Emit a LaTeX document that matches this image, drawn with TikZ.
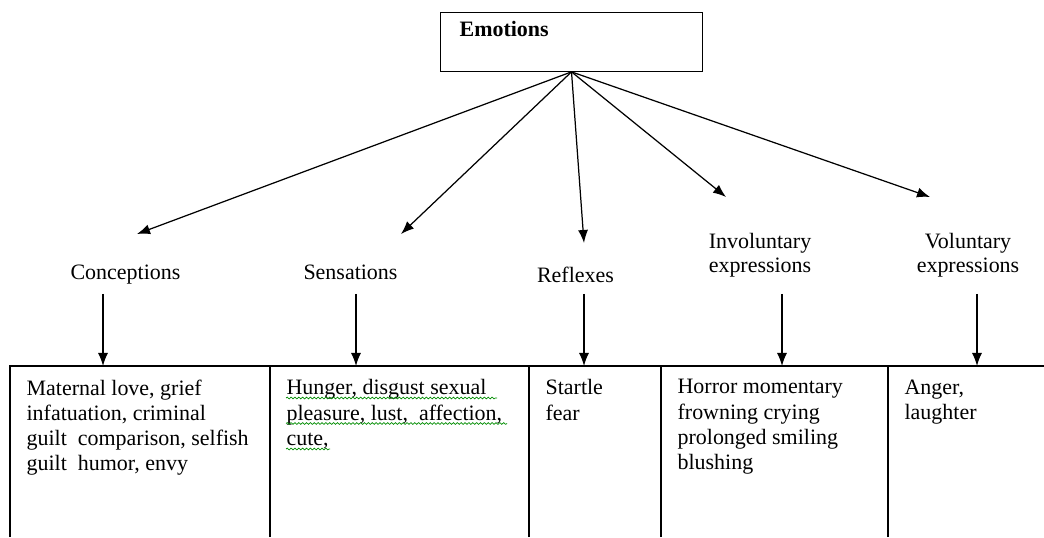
\documentclass[tikz,border=0pt]{standalone}
\usepackage{fontspec}
\setmainfont{Liberation Serif}
\usetikzlibrary{arrows.meta,decorations.pathmorphing}
\begin{document}
\begin{tikzpicture}[font=\fontsize{12.5}{14.4}\selectfont, line width=0.7pt,
  >={Latex[length=2.6mm,width=2mm]},
  lbl/.style={align=center, inner sep=0pt, font=\fontsize{12.5}{13.6}\selectfont},
  cell/.style={anchor=north west, align=left, inner sep=0pt},
  squig/.style={draw=green!55!black, line width=0.4pt, decorate,
    decoration={snake, amplitude=0.5pt, segment length=2.2pt}}]
\useasboundingbox (0,0) rectangle (20.88,10.74);
\node[draw, minimum width=5.24cm, minimum height=1.17cm] (emo) at (11.43,9.90) {};
\node[anchor=base west, inner sep=0pt, font=\fontsize{12.5}{14.4}\selectfont\bfseries] (emot) at (9.18,10.0) {Emotions};
\coordinate (c1) at (2.74,6.06);
\coordinate (c2) at (8.02,6.06);
\coordinate (c3) at (11.68,5.88);
\coordinate (c4) at (14.52,6.80);
\coordinate (c5) at (18.6,6.80);
\draw[->] (emo.south) -- (c1);
\draw[->] (emo.south) -- (c2);
\draw[->] (emo.south) -- (c3);
\draw[->] (emo.south) -- (c4);
\draw[->] (emo.south) -- (c5);
\node[lbl, anchor=base] (conc) at (2.51,5.14) {Conceptions};
\node[lbl, anchor=base] (sens) at (7.01,5.14) {Sensations};
\node[lbl, anchor=base] (refl) at (11.51,5.08) {Reflexes};
\node[lbl] (invol) at (15.2,5.64) {Involuntary\\expressions};
\node[lbl] (vol) at (19.36,5.64) {Voluntary\\expressions};
\coordinate (top) at (0,3.42);
\coordinate (s1) at (2.06,4.86);
\coordinate (s2) at (7.12,4.86);
\coordinate (s3) at (11.68,4.86);
\coordinate (s4) at (15.64,4.86);
\coordinate (s5) at (19.54,4.86);
\draw[->] (s1) -- (s1 |- top);
\draw[->] (s2) -- (s2 |- top);
\draw[->] (s3) -- (s3 |- top);
\draw[->] (s4) -- (s4 |- top);
\draw[->] (s5) -- (s5 |- top);
\draw (0.2,0) -- (0.2,3.42) -- (20.88,3.42);
\foreach \x in {5.4,10.58,13.22,17.76}
  \draw (\x,0) -- (\x,3.42);
\node[cell] (cellA) at (0.52,3.16) {Maternal love, grief\\infatuation, criminal\\guilt\ \ comparison, selfish\\guilt\ \ humor, envy};
\node[cell] (cellB) at (5.72,3.16) {Hunger, disgust sexual\\pleasure, lust, \ affection,\\cute,};
\node[cell] (cellC) at (10.9,3.16) {Startle\\fear};
\node[cell] (cellD) at (13.54,3.16) {Horror momentary\\frowning crying\\prolonged smiling\\blushing};
\node[cell] (cellE) at (18.08,3.16) {Anger,\\laughter};
\draw[squig] (5.72,2.78) -- (9.94,2.78);
\draw[squig] (5.72,2.27) -- (10.14,2.27);
\draw[squig] (5.72,1.76) -- (6.6,1.76);
\end{tikzpicture}
\end{document}
